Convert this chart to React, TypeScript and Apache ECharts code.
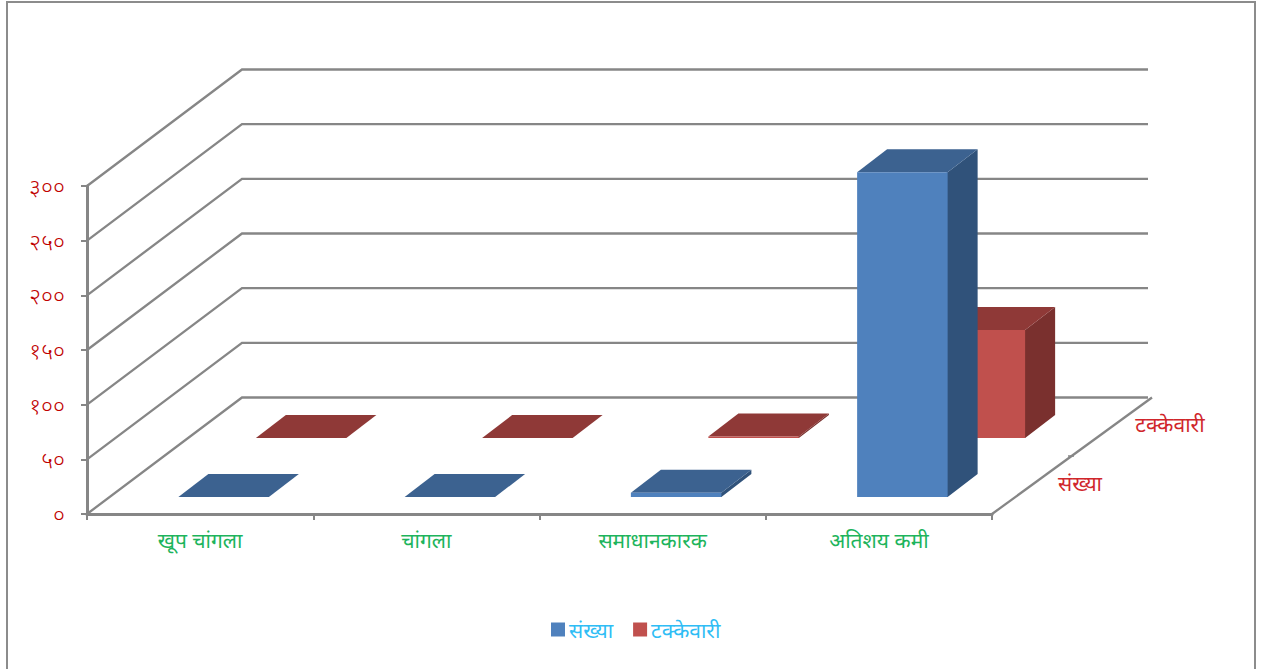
import React, { useEffect, useRef } from "react";
import * as echarts from "echarts";

const categories = ["खूप चांगला", "चांगला", "समाधानकारक", "अतिशय कमी"];
const seriesNames = ["संख्या", "टक्केवारी"];
const countValues = [0, 0, 4, 297];
const percentValues = [0, 0, 1.33, 98.67];
const wallTicks = [0, 50, 100, 150, 200, 250, 300];
const tickLabels: Record<string, string> = {
  "0": "०",
  "50": "५०",
  "100": "१००",
  "150": "१५०",
  "200": "२००",
  "250": "२५०",
  "300": "३००",
};

const FONT = "'Noto Sans', sans-serif";
const GRID_GRAY = "#868686";
const DEPTH_X = 155;
const DEPTH_Y = 116.5;
const BAR_DX = 30;
const BAR_DY = 23;

type Palette = { front: string; top: string; side: string };
const bluePalette: Palette = { front: "#4f81bd", top: "#3c6290", side: "#30527a" };
const redPalette: Palette = { front: "#c0504d", top: "#8f3937", side: "#7a302e" };

function barRenderer(offsetX: number, offsetY: number, pal: Palette) {
  return (_params: any, api: any) => {
    const base = api.coord([api.value(0), 0]);
    const head = api.coord([api.value(0), api.value(1)]);
    const w = api.size([1, 0])[0] * 0.4;
    const x0 = base[0] - w / 2 + offsetX;
    const x1 = x0 + w;
    const yB = base[1] - offsetY;
    const yT = head[1] - offsetY;
    return {
      type: "group",
      children: [
        {
          type: "polygon",
          shape: {
            points: [[x1 - 1, yB], [x1, yB], [x1 + BAR_DX, yB - BAR_DY], [x1 + BAR_DX, yT - BAR_DY], [x1, yT], [x1 - 1, yT]],
          },
          style: { fill: pal.side },
        },
        {
          type: "polygon",
          shape: { points: [[x0, yT], [x1, yT], [x1 + BAR_DX, yT - BAR_DY], [x0 + BAR_DX, yT - BAR_DY]] },
          style: { fill: pal.top },
        },
        {
          type: "polygon",
          shape: { points: [[x0, yB], [x1, yB], [x1, yT], [x0, yT]] },
          style: { fill: pal.front },
        },
      ],
    };
  };
}

function wallRenderer(params: any, api: any) {
  const value = api.value(1);
  const y = api.coord([0, value])[1];
  const cs = params.coordSys;
  const left = cs.x;
  const right = cs.x + cs.width;
  const children: any[] = [
    {
      type: "polyline",
      shape: { points: [[left, y], [left + DEPTH_X, y - DEPTH_Y], [right + DEPTH_X + 1, y - DEPTH_Y]] },
      style: { stroke: GRID_GRAY, lineWidth: 2.3, fill: "none" },
    },
  ];
  if (value === 0) {
    children.push(
      {
        type: "line",
        shape: { x1: right, y1: y, x2: right + DEPTH_X + 5, y2: y - DEPTH_Y },
        style: { stroke: GRID_GRAY, lineWidth: 2.3 },
      },
      {
        type: "line",
        shape: { x1: right + 76, y1: y - 58, x2: right + 82, y2: y - 58 },
        style: { stroke: GRID_GRAY, lineWidth: 1.5 },
      }
    );
  }
  return { type: "group", children };
}

export default function App() {
  const ref = useRef<HTMLDivElement>(null);
  useEffect(() => {
    document.body.style.margin = "0";
    const chart = echarts.init(ref.current!, undefined, { renderer: "svg" });
    chart.setOption({
      animation: false,
      backgroundColor: "#ffffff",
      grid: { left: 87, right: 283, top: 186, bottom: 155 },
      legend: {
        data: seriesNames,
        left: 546,
        top: 614,
        itemWidth: 14,
        itemHeight: 14,
        itemGap: 20,
        icon: "rect",
        textStyle: { color: "#2fbdf5", fontSize: 21, fontFamily: FONT, padding: [0, 0, 5, -1] },
      },
      xAxis: {
        type: "category",
        data: categories,
        axisLine: { lineStyle: { color: GRID_GRAY, width: 3 } },
        axisTick: { show: true, length: 6, lineStyle: { color: GRID_GRAY, width: 2 } },
        axisLabel: { color: "#1db45c", fontSize: 21, fontFamily: FONT, margin: 15 },
        splitLine: { show: false },
      },
      yAxis: {
        type: "value",
        min: 0,
        max: 300,
        interval: 50,
        axisLine: { show: true, lineStyle: { color: GRID_GRAY, width: 3 } },
        axisTick: { show: true, length: 6, lineStyle: { color: GRID_GRAY, width: 2 } },
        axisLabel: {
          color: "#c00000",
          fontSize: 23,
          fontWeight: 300,
          fontFamily: FONT,
          margin: 22,
          padding: [0, 0, 5, 0],
          formatter: (v: number) => tickLabels[String(v)],
        },
        splitLine: { show: false },
      },
      series: [
        {
          name: "walls",
          type: "custom",
          z: 1,
          silent: true,
          data: wallTicks.map((v) => [0, v]),
          encode: { x: 0, y: 1 },
          renderItem: wallRenderer,
        },
        {
          name: seriesNames[0],
          type: "custom",
          z: 4,
          silent: true,
          itemStyle: { color: bluePalette.front },
          data: countValues.map((v, i) => [i, v]),
          encode: { x: 0, y: 1 },
          renderItem: barRenderer(23.5, 17, bluePalette),
        },
        {
          name: seriesNames[1],
          type: "custom",
          z: 3,
          silent: true,
          itemStyle: { color: redPalette.front },
          data: percentValues.map((v, i) => [i, v]),
          encode: { x: 0, y: 1 },
          renderItem: barRenderer(101, 76, redPalette),
        },
      ],
      graphic: [
        {
          type: "rect",
          silent: true,
          shape: { x: 7, y: 2, width: 1248, height: 690 },
          style: { fill: "none", stroke: "#8c8c8c", lineWidth: 2 },
        },
        {
          type: "text",
          silent: true,
          x: 1080,
          y: 483,
          style: { text: seriesNames[0], fill: "#d0262b", font: `21px ${FONT}`, align: "center", verticalAlign: "middle" },
        },
        {
          type: "text",
          silent: true,
          x: 1170,
          y: 424,
          style: { text: seriesNames[1], fill: "#d0262b", font: `21px ${FONT}`, align: "center", verticalAlign: "middle" },
        },
      ],
    });
    return () => chart.dispose();
  }, []);
  return <div ref={ref} style={{ position: "fixed", left: 0, top: 0, width: 1275, height: 669 }} />;
}
